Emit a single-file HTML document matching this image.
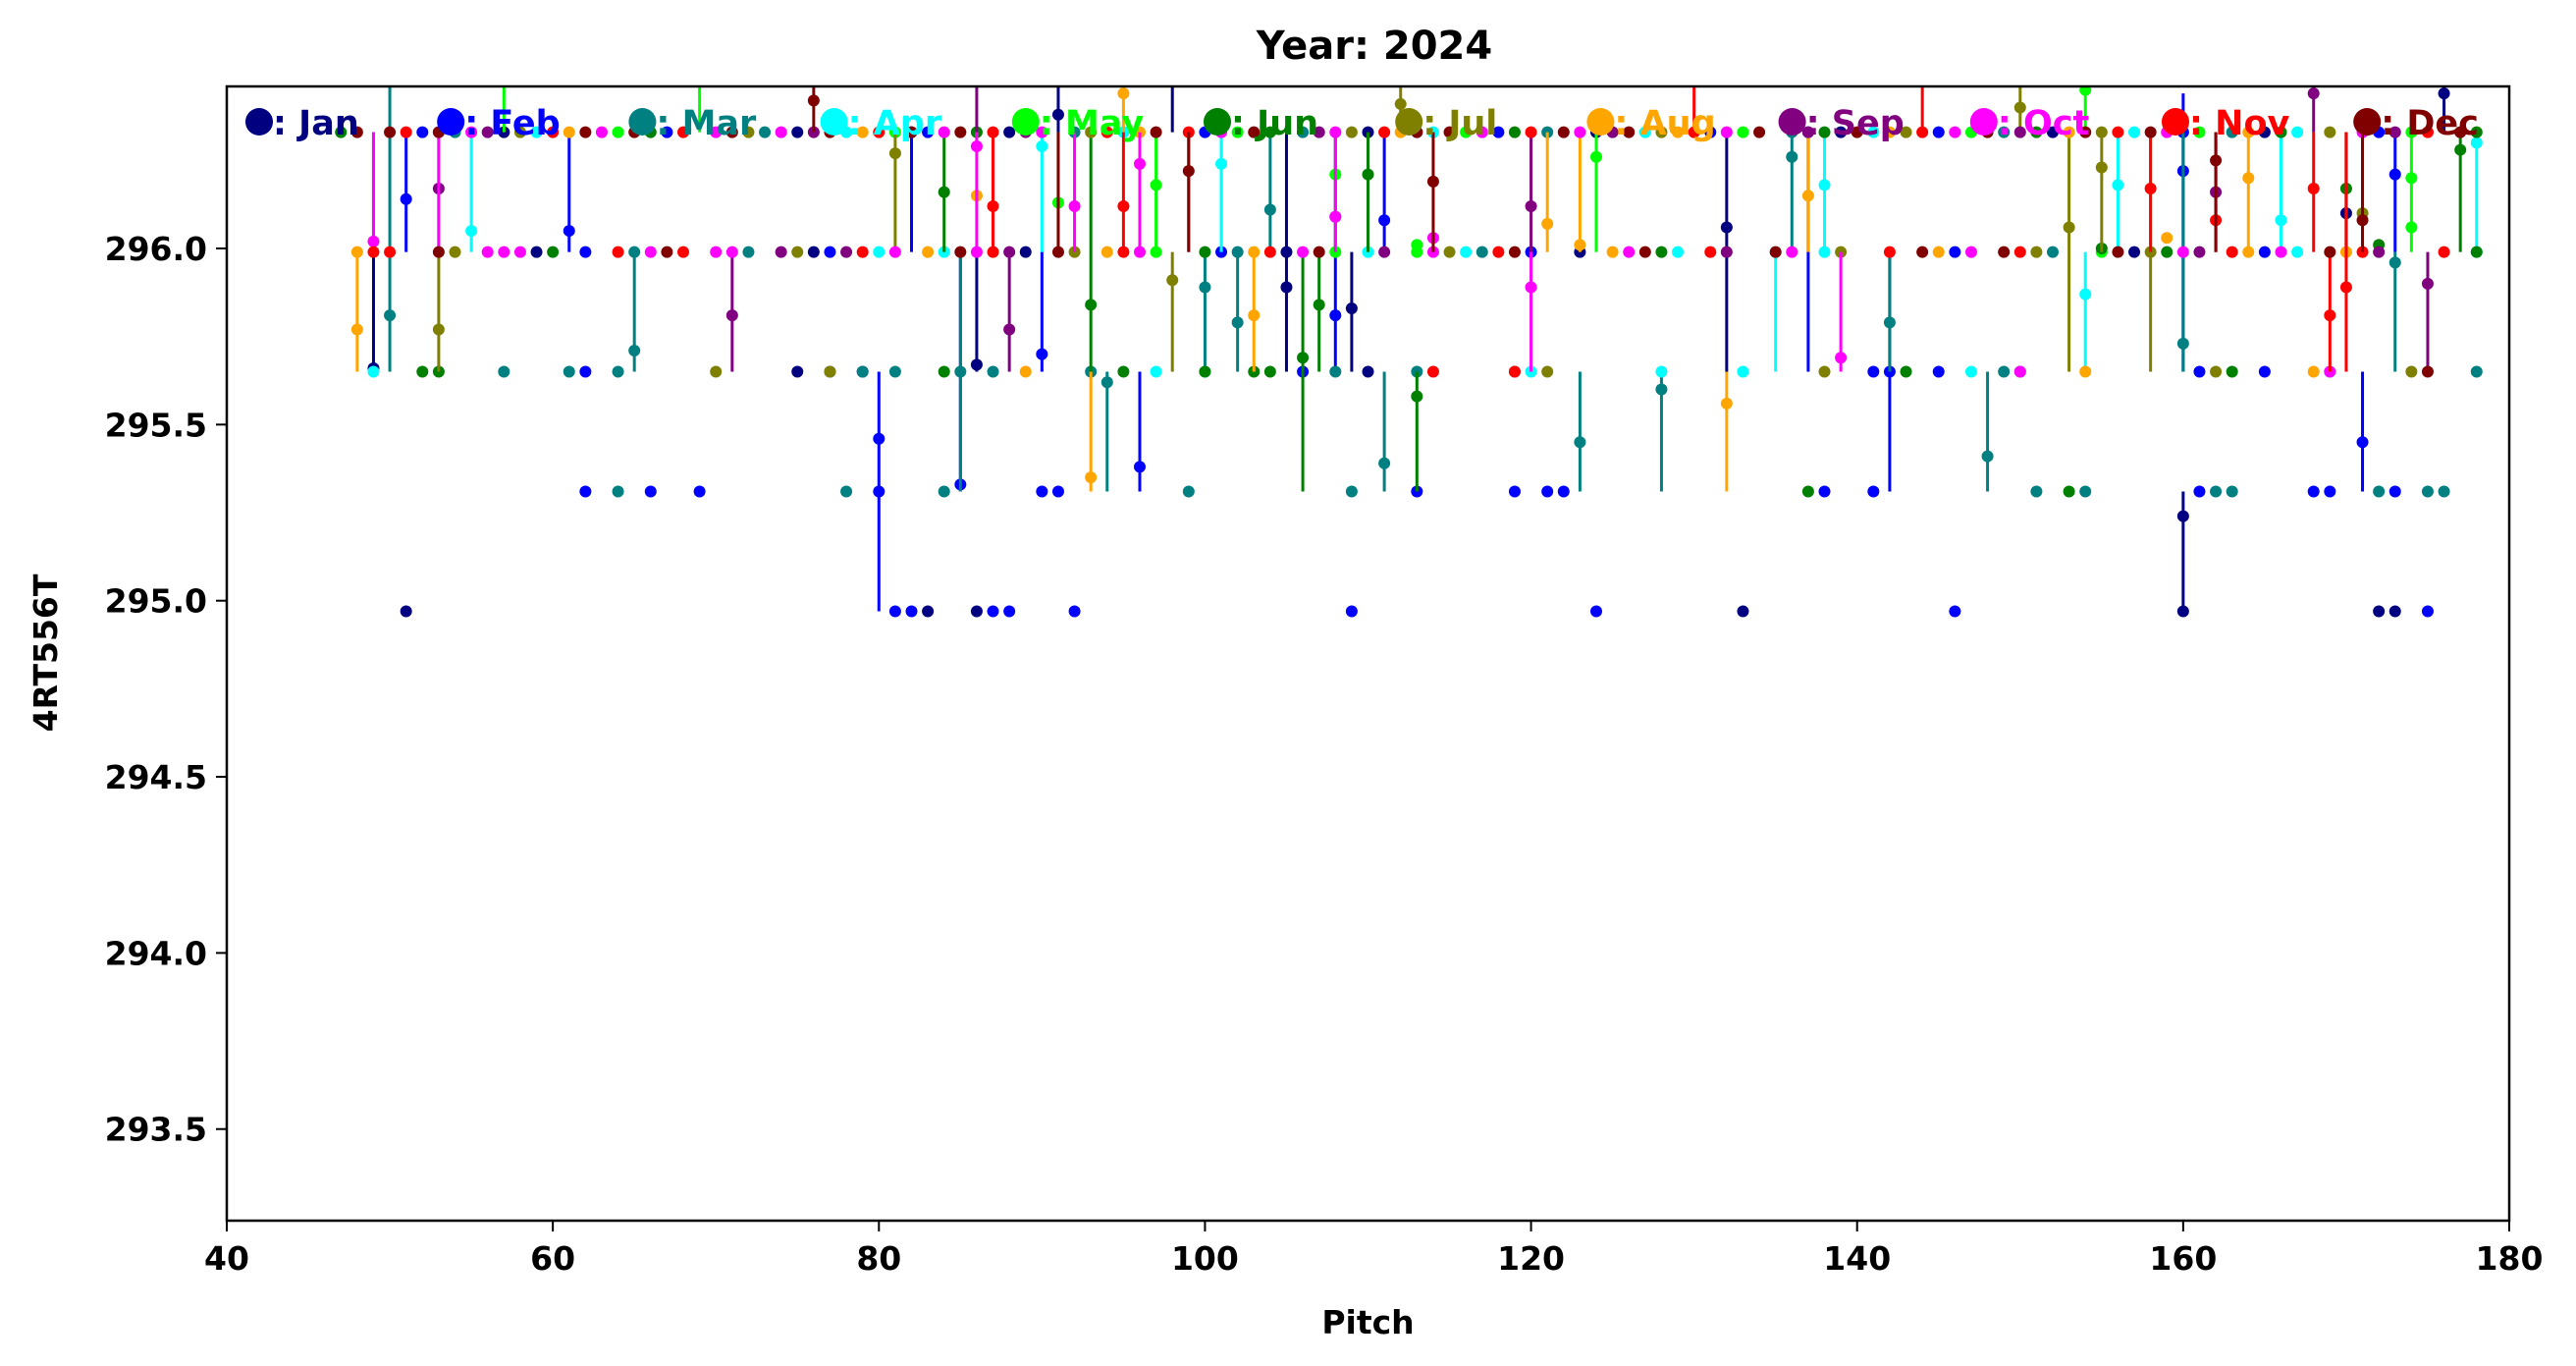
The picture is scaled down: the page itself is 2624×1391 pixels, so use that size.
<!DOCTYPE html>
<html><head><meta charset="utf-8"><style>
html,body{margin:0;padding:0;background:#fff;}
svg{display:block;font-family:"DejaVu Sans","Liberation Sans",sans-serif;font-weight:bold;}
</style></head><body>
<svg id="chart" width="2624" height="1391" viewBox="0 0 2624 1391">
<defs><clipPath id="plotclip"><rect x="231" y="88" width="2325" height="1155"/></clipPath></defs>
<rect x="0" y="0" width="2624" height="1391" fill="#fff"/>
<text x="1400" y="60" font-size="40" text-anchor="middle">Year: 2024</text>
<g id="marks" clip-path="url(#plotclip)"></g>
<g id="axes"></g>
<g id="legend"></g>
</svg>
<script>
const months = ["Jan","Feb","Mar","Apr","May","Jun","Jul","Aug","Sep","Oct","Nov","Dec"];
const colors = ["#000080","#0000ff","#008080","#00ffff","#00ff00","#008000","#808000","#ffa500","#800080","#ff00ff","#ff0000","#800000"];
const xTicks = [40,60,80,100,120,140,160,180];
const yTicks = [293.5,294.0,294.5,295.0,295.5,296.0];
const TOP = 296.33, MID = 295.99;
// per-month points: [pitch, value, stemLow, stemHigh]
const janPts = [[49,295.66,295.66,296.33],[51,294.97],[75,295.65],[83,294.97],[86,294.97],[86,295.67,295.65,295.99],[91,296.38,296.33,296.5],[98,296.5,296.33,296.5],[105,295.89,295.65,296.33],[108,296.09,295.99,296.33],[109,295.83,295.65,295.99],[110,295.65],[132,296.06,295.65,296.33],[133,294.97],[160,294.97],[160,295.24,294.97,295.31],[172,294.97],[173,294.97],[176,296.44,296.33,296.5],[170,296.1,295.99,296.33]];
const febPts = [[51,296.14,295.99,296.33],[61,296.05,295.99,296.33],[62,295.31],[62,295.65],[66,295.31],[69,295.31],[77,295.65],[79,295.65],[80,295.46,294.97,295.65],[80,295.31],[81,294.97],[82,294.97],[82,296.33,295.99,296.33],[85,295.33,295.31,295.99],[87,294.97],[88,294.97],[90,295.70,295.65,295.99],[90,295.31],[91,295.31],[92,294.97],[96,295.38,295.31,295.65],[106,295.65],[108,295.81,295.65,295.99],[109,294.97],[111,296.08,295.99,296.33],[113,295.31],[119,295.31],[121,295.31],[122,295.31],[124,294.97],[137,296.33,295.65,296.33],[138,295.31],[141,295.31],[141,295.65],[142,295.65,295.31,295.99],[145,295.65],[146,294.97],[160,296.22,295.65,296.44],[161,295.31],[161,295.65],[165,295.65],[168,295.31],[169,295.31],[171,295.45,295.31,295.65],[173,296.21,295.99,296.33],[173,295.31],[175,294.97]];
const marPts = [[50,295.81,295.65,296.5],[57,295.65],[61,295.65],[64,295.31],[64,295.65],[65,295.71,295.65,295.99],[72,295.99],[78,295.31],[79,295.65],[81,295.65],[84,295.31],[85,295.65,295.31,295.99],[87,295.65],[93,295.65],[94,295.62,295.31,295.65],[99,295.31],[100,295.89,295.65,295.99],[102,295.79,295.65,295.99],[104,296.11,295.99,296.33],[108,295.65],[109,295.31],[111,295.39,295.31,295.65],[113,295.65],[119,295.65],[123,295.45,295.31,295.65],[128,295.60,295.31,295.65],[136,296.26,295.99,296.33],[142,295.79,295.65,295.99],[148,295.41,295.31,295.65],[149,295.65],[151,295.31],[154,295.31],[160,295.73,295.65,296.33],[162,295.31],[163,295.31],[172,295.31],[173,295.96,295.65,295.99],[175,295.31],[176,295.31],[178,295.65]];
const aprPts = [[49,295.65],[55,296.05,295.99,296.33],[90,296.29,295.99,296.33],[97,295.65],[100,295.65],[101,296.24,295.99,296.33],[113,296.33],[116,295.99],[120,295.65],[128,295.65],[133,295.65],[135,295.99,295.65,295.99],[138,296.18,295.99,296.33],[147,295.65],[154,295.87,295.65,295.99],[156,296.18,295.99,296.33],[166,296.08,295.99,296.33],[169,295.65],[178,296.30,295.99,296.33]];
const mayPts = [[91,296.13,295.99,296.33],[97,296.18,295.99,296.33],[108,296.21,295.99,296.33],[113,296.01],[124,296.26,295.99,296.33],[154,296.45,296.33,296.5],[174,296.20,295.99,296.33],[174,296.06],[57,296.5,296.33,296.5],[69,296.5,296.33,296.5]];
const junPts = [[52,295.65],[53,295.65],[84,296.16,295.99,296.33],[84,295.65],[93,295.84,295.65,296.33],[95,295.65],[100,295.65],[103,295.65],[104,295.65],[106,295.69,295.31,295.99],[107,295.84,295.65,295.99],[110,296.21,295.99,296.33],[113,295.58,295.31,295.65],[137,295.31],[143,295.65],[150,295.65],[153,295.31],[155,296.00],[163,295.65],[170,296.17,295.99,296.33],[172,296.01],[177,296.28,295.99,296.33]];
const julPts = [[53,295.77,295.65,296.33],[70,295.65],[77,295.65],[81,296.27,295.99,296.33],[98,295.91,295.65,295.99],[112,296.41,296.33,296.5],[121,295.65],[138,295.65],[150,296.40,296.33,296.5],[153,296.06,295.65,296.33],[155,296.23,295.99,296.33],[158,295.99,295.65,296.33],[162,295.65],[171,296.1,295.99,296.33],[174,295.65]];
const augPts = [[48,295.77,295.65,295.99],[86,296.15,295.99,296.33],[89,295.65],[93,295.35,295.31,295.65],[95,296.44,296.33,296.5],[103,295.81,295.65,295.99],[121,296.07,295.99,296.33],[123,296.01,295.99,296.33],[132,295.56,295.31,295.65],[137,296.15,295.99,296.33],[159,296.03],[164,296.20,295.99,296.33],[168,295.65],[154,295.65]];
const sepPts = [[53,296.17],[71,295.81,295.65,295.99],[88,295.77,295.65,295.99],[120,296.12,295.99,296.33],[162,296.16,295.99,296.33],[168,296.44,296.33,296.5],[175,295.90,295.65,295.99],[86,296.5,296.33,296.5]];
const octPts = [[49,296.02,295.99,296.33],[86,296.29,295.99,296.33],[92,296.12,295.99,296.33],[96,296.24,295.99,296.33],[108,296.09,295.99,296.33],[114,296.03],[120,295.89,295.65,295.99],[139,295.69,295.65,295.99],[150,295.65],[169,295.65],[53,296.33,295.99,296.33]];
const novPts = [[87,296.12,295.99,296.33],[95,296.12,295.99,296.33],[114,295.65],[119,295.65],[130,296.33,296.33,296.5],[144,296.33,296.33,296.5],[158,296.17,295.99,296.33],[162,296.08,295.99,296.33],[168,296.17,295.99,296.33],[169,295.81,295.65,295.99],[170,295.89,295.65,296.33],[99,296.33,295.99,296.33]];
const decPts = [[76,296.42,296.33,296.5],[99,296.22,295.99,296.33],[114,296.19,295.99,296.33],[162,296.25,295.99,296.33],[171,296.08,295.99,296.33],[175,295.65],[91,295.99,295.99,296.33]];
// row fills: pitches on the 296.33 row and the 295.99 row
const topRows = [[57,75,88,110,124,139,152,165],[52,67,83,100,118,131,145,160,172],[54,73,92,106,121,136,149,163,177],[59,78,95,114,127,141,157,167],[64,81,102,116,133,147,161,174],[47,66,86,104,119,138,151,166,178],[58,72,93,109,128,143,155,169],[61,79,96,112,129,142,153,164],[56,76,89,107,125,137,150,173],[55,63,70,74,84,90,101,108,117,123,132,146,159,171],[51,60,68,80,87,94,111,120,156,175],[48,50,53,62,65,71,77,82,85,97,103,113,115,122,126,134,140,148,154,158,177]];
const midRows = [[59,76,89,105,123,157],[62,77,101,120,146,165],[65,102,117,152],[80,84,110,129,138,167,178],[97,108,113,155],[60,100,128,159,178],[54,75,92,115,139,151],[48,83,94,103,125,145,164,170],[74,78,88,111,132,161,172],[56,57,58,66,70,71,81,86,96,106,114,126,136,147,160,166],[49,50,64,68,79,87,95,104,118,131,142,150,163,171,176],[53,67,85,107,119,127,135,144,149,156,169]];
const allPts = [janPts,febPts,marPts,aprPts,mayPts,junPts,julPts,augPts,sepPts,octPts,novPts,decPts];

const X0=231,X1=2556,Y0=88,Y1=1243,XMIN=40,XMAX=180,YMIN=293.24,YMAX=296.46;
function sx(v){return X0+(v-XMIN)/(XMAX-XMIN)*(X1-X0);}
function sy(v){return Y1-(v-YMIN)/(YMAX-YMIN)*(Y1-Y0);}
const NS="http://www.w3.org/2000/svg";
function mk(tag,attrs,parent){const e=document.createElementNS(NS,tag);for(const k in attrs)e.setAttribute(k,attrs[k]);parent.appendChild(e);return e;}
const marks=document.getElementById('marks');
const axes=document.getElementById('axes');
const legend=document.getElementById('legend');

for(let m=0;m<12;m++){
  const g=mk('g',{},marks);
  
  
  const pts=[];
  topRows[m].forEach(x=>pts.push([x,TOP]));
  midRows[m].forEach(x=>pts.push([x,MID]));
  allPts[m].forEach(p=>pts.push(p));
  pts.forEach(p=>{
    if(p.length===4){
      const l=mk('line',{x1:sx(p[0]),x2:sx(p[0]),y1:sy(p[2]),y2:sy(p[3]),stroke:colors[m],'stroke-width':3},g);
      
      
    }
  });
  pts.forEach(p=>{
    const c=mk('circle',{cx:sx(p[0]),cy:sy(p[1]),r:6,fill:colors[m]},g);
    
    
  });
}
// legend
for(let m=0;m<12;m++){
  const lx=264+m*195.2;
  const c=mk('circle',{cx:lx,cy:124,r:14,fill:colors[m]},legend);
  
  
  const t=mk('text',{x:lx+14,y:137,'font-size':35,fill:colors[m]},legend);
  t.textContent=': '+months[m];
  
  
}
// frame
const fr=mk('rect',{x:X0,y:Y0,width:X1-X0,height:Y1-Y0,fill:'none',stroke:'#000','stroke-width':2.5},axes);


xTicks.forEach(v=>{
  const l=mk('line',{x1:sx(v),x2:sx(v),y1:Y1,y2:Y1+11,stroke:'#000','stroke-width':2},axes);
  
  
  const t=mk('text',{x:sx(v),y:Y1+50,'font-size':33,'text-anchor':'middle'},axes);
  t.textContent=v;
  
  
});
yTicks.forEach(v=>{
  const l=mk('line',{x1:X0-11,x2:X0,y1:sy(v),y2:sy(v),stroke:'#000','stroke-width':2},axes);
  
  
  const t=mk('text',{x:X0-20,y:sy(v)+12,'font-size':33,'text-anchor':'end'},axes);
  t.textContent=v.toFixed(1);
  
  
});
const xl=mk('text',{x:(X0+X1)/2,y:1358,'font-size':33,'text-anchor':'middle'},axes);
xl.textContent='Pitch';


const yl=mk('text',{x:0,y:0,'font-size':33,'text-anchor':'middle',transform:'translate(58,665) rotate(-90)'},axes);
yl.textContent='4RT556T';


</script>
</body></html>
